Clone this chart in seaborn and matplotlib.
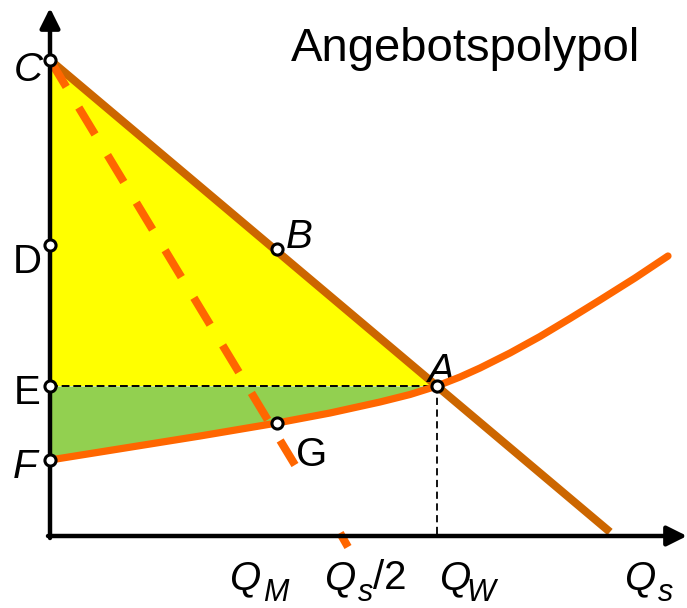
"""
Angebotspolypol: Nachfrage, Grenzerlös und Angebot mit Renten-Flächen
"""

import matplotlib
matplotlib.use("Agg")
import matplotlib.pyplot as plt
import seaborn as sns

demand_x = [0, 560]
demand_y = [476, 4]

# marginal revenue (dashed), upper part and the little stub at the axis
mr_x = [0, 245]
mr_y = [476, 71]
mr_stub_x = [290, 298]
mr_stub_y = [3, -11]

supply_x = [0, 75, 150, 227, 280, 330, 360, 387, 410, 430, 460, 490, 520,
            550, 585, 618]
supply_y = [76, 88, 100, 113, 123, 134, 141.5, 150, 159, 168, 183, 199.5,
            217.5, 236, 258, 280]

point_names = ["C", "D", "E", "F", "B", "A", "G"]
point_x = [0, 0, 0, 0, 227, 387, 227]
point_y = [476, 291, 150, 76, 287, 150, 113]

# quantity labels: main letter, subscript, suffix
q_main = ["Q", "Q", "Q", "Q"]
q_sub = ["M", "s", "W", "s"]
q_suffix = ["", "/2", "", ""]

DEMAND_COLOR = "#CC6600"
SUPPLY_COLOR = "#FF6600"
YELLOW = "#FFFF00"
GREEN = "#92D050"

sns.set_theme(style="white")
plt.rcParams["font.family"] = ["Liberation Sans", "DejaVu Sans"]
plt.rcParams["text.color"] = "black"

fig = plt.figure(figsize=(6.87, 6.08), dpi=100)
ax = fig.add_axes([0, 0, 1, 1])
ax.set_xlim(-50, 637)
ax.set_ylim(-72, 536)
ax.axis("off")

pts = dict(zip(point_names, zip(point_x, point_y)))
cx, cy = pts["C"]
ax_, ay = pts["A"]
ex, ey = pts["E"]

# consumer surplus (yellow) and producer surplus (green)
ax.fill([cx, ax_, ex], [cy, ay, ey], color=YELLOW, lw=0, zorder=1)
sx = [x for x in supply_x if x <= ax_]
sy = supply_y[:len(sx)]
ax.fill_between(sx, sy, ay, color=GREEN, lw=0, zorder=1)

# thin dashed helper lines
ax.plot([ex, ax_], [ey, ay], color="black", lw=1.4, ls=(0, (4, 2)), zorder=2)
ax.plot([ax_, ax_], [ay, 0], color="black", lw=1.3, ls=(0, (4, 2.5)), zorder=2)

# curves
sns.lineplot(x=demand_x, y=demand_y, color=DEMAND_COLOR, lw=5.8, sort=False,
             solid_capstyle="butt", ax=ax, zorder=3)
sns.lineplot(x=supply_x, y=supply_y, color=SUPPLY_COLOR, lw=5.2, sort=False,
             solid_joinstyle="round", ax=ax, zorder=4)
ax.plot(mr_x, mr_y, color=SUPPLY_COLOR, lw=5.8, dashes=(3.9, 3.0), zorder=4)
ax.plot(mr_stub_x, mr_stub_y, color=SUPPLY_COLOR, lw=5.8,
        solid_capstyle="butt", zorder=4, clip_on=False)

# axes with arrows
arrow = dict(arrowstyle="-|>,head_length=0.6,head_width=0.3", lw=3.2,
             color="black", mutation_scale=20, shrinkA=0, shrinkB=0)
ax.annotate("", xy=(0, 528), xytext=(0, -2), arrowprops=arrow, zorder=5)
ax.annotate("", xy=(637, 0), xytext=(-2, 0), arrowprops=arrow, zorder=5)

# points
ax.plot(point_x, point_y, ls="none", marker="o", ms=8, mfc="white",
        mec="black", mew=2.2, zorder=6)

# letters
fs = 29
ax.text(-22, 466, "C", fontsize=fs, style="italic", ha="center", va="center")
ax.text(-23, 274, "D", fontsize=fs, ha="center", va="center")
ax.text(-23, 143, "E", fontsize=fs, ha="center", va="center")
ax.text(-25, 69, "F", fontsize=fs, style="italic", ha="center", va="center")
ax.text(236, 299, "B", fontsize=fs, style="italic", ha="left", va="center")
ax.text(391, 165, "A", fontsize=fs, style="italic", ha="center", va="center")
ax.text(246, 81, "G", fontsize=fs, ha="left", va="center")
ax.text(241, 487, "Angebotspolypol", fontsize=34, ha="left", va="center")

# quantity labels on the x axis
q_left = [179, 274, 389, 574]
sub_left = [213, 308, 416, 608]
suffix_left = [0, 323, 0, 0]
for i in range(len(q_main)):
    ax.text(q_left[i], -53, q_main[i], fontsize=fs, style="italic",
            ha="left", va="baseline")
    ax.text(sub_left[i], -65, q_sub[i], fontsize=22, style="italic",
            ha="left", va="baseline")
    if q_suffix[i]:
        ax.text(suffix_left[i], -53, q_suffix[i], fontsize=fs,
                ha="left", va="baseline")

fig.savefig("out.png", dpi=100)
